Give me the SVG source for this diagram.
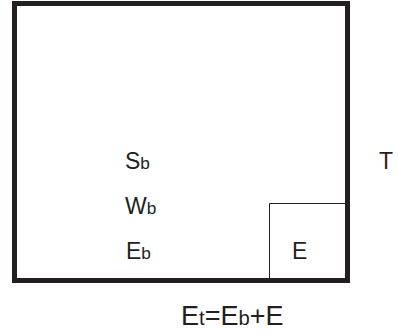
<svg xmlns="http://www.w3.org/2000/svg" width="398" height="334" viewBox="0 0 398 334">
  <style>
    .lbl { font-family: "Liberation Sans", Arial, Helvetica, sans-serif; font-size: 23px; fill: #231f20; }
    .eq { font-family: "Liberation Sans", Arial, Helvetica, sans-serif; font-size: 27px; fill: #231f20; }
    .sub { font-size: 0.75em; }
    .frame { fill: #ffffff; stroke: #231f20; stroke-width: 5; }
    .cell { fill: none; stroke: #231f20; stroke-width: 1; }
  </style>
  <rect width="398" height="334" fill="#ffffff"/>

  <!-- outer boundary -->
  <g id="boundary">
    <rect class="frame" x="14.5" y="3.5" width="333" height="277"/>
  </g>

  <!-- corner cell inside the boundary -->
  <g id="cell-e">
    <polyline class="cell" points="269.5,278 269.5,203.5 345,203.5"/>
    <text class="lbl" x="292" y="259">E</text>
  </g>

  <g id="labels">
    <text class="lbl" x="125" y="169">S<tspan class="sub">b</tspan></text>
    <text class="lbl" x="125" y="214">W<tspan class="sub">b</tspan></text>
    <text class="lbl" x="126" y="259">E<tspan class="sub">b</tspan></text>
  </g>

  <g id="label-t">
    <text class="lbl" x="379" y="169">T</text>
  </g>

  <g id="equation">
    <text class="eq" x="181" y="325">E<tspan class="sub">t</tspan>=E<tspan class="sub">b</tspan>+E</text>
  </g>
</svg>
